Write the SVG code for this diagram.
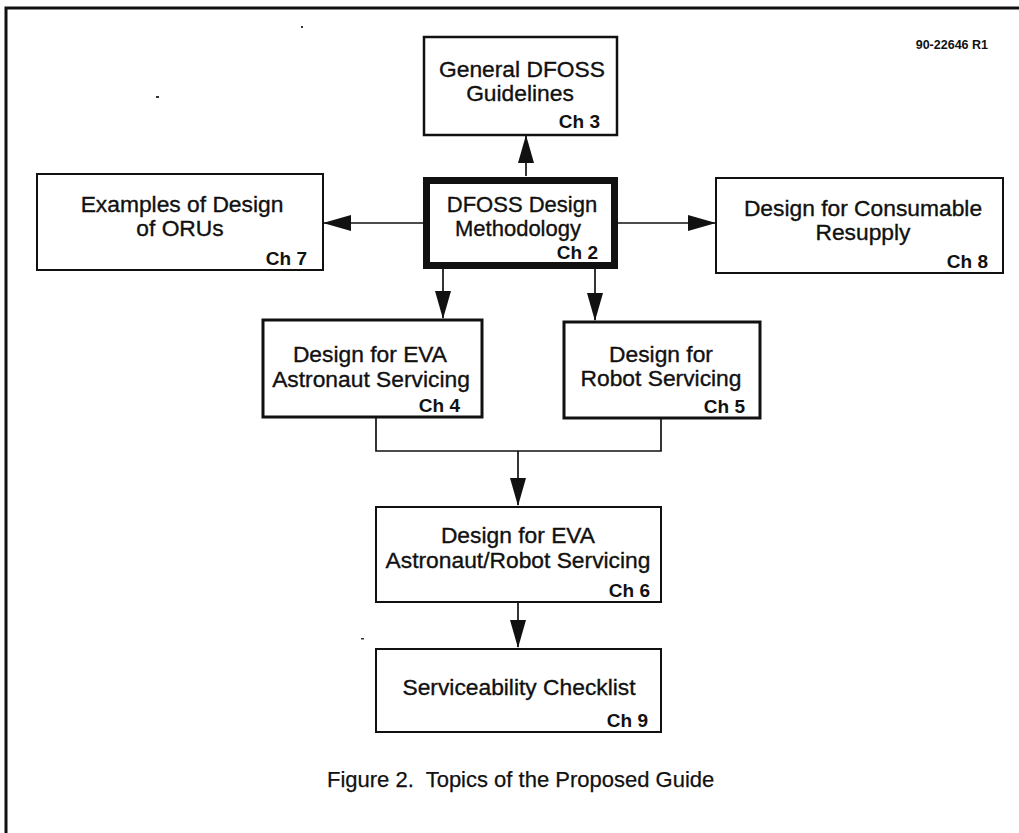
<svg xmlns="http://www.w3.org/2000/svg" width="1019" height="833" viewBox="0 0 1019 833">
<style>
.box{fill:#fff;stroke:#111}
.t{font-family:"Liberation Sans",Arial,sans-serif;font-size:22.8px;fill:#111;stroke:#111;stroke-width:0.35;text-anchor:middle}
.ch{font-family:"Liberation Sans",Arial,sans-serif;font-size:19px;font-weight:bold;fill:#111;text-anchor:end}
.ln{fill:none;stroke:#111;stroke-width:1.7}
</style>
<defs>
<marker id="ah" markerUnits="userSpaceOnUse" markerWidth="28" markerHeight="16" refX="27" refY="8" orient="auto">
<path d="M0,0 L28,8 L0,16 z" fill="#111"/>
</marker>
</defs>
<rect width="1019" height="833" fill="#fff"/>
<g id="frame">
<path d="M6,833 V8 H1019" fill="none" stroke="#111" stroke-width="3"/>
<rect x="301" y="26" width="2" height="2" fill="#333"/>
<rect x="156" y="96" width="3" height="2" fill="#333"/>
<rect x="361" y="638" width="3" height="1.5" fill="#333"/>
</g>
<text id="ref" x="988" y="49" font-family="Liberation Sans,Arial,sans-serif" font-size="12.5" font-weight="bold" fill="#111" text-anchor="end">90-22646 R1</text>
<g id="connectors">
<line class="ln" x1="526" y1="176" x2="526" y2="136" marker-end="url(#ah)"/>
<line class="ln" x1="423" y1="223" x2="324" y2="223" marker-end="url(#ah)"/>
<line class="ln" x1="618" y1="223" x2="715" y2="223" marker-end="url(#ah)"/>
<line class="ln" x1="443" y1="269" x2="443" y2="318" marker-end="url(#ah)"/>
<line class="ln" x1="595" y1="269" x2="595" y2="320" marker-end="url(#ah)"/>
<polyline class="ln" points="376,417 376,451 661,451 661,418"/>
<line class="ln" x1="518" y1="451" x2="518" y2="505" marker-end="url(#ah)"/>
<line class="ln" x1="518" y1="602" x2="518" y2="647" marker-end="url(#ah)"/>
</g>
<g id="ch3">
<rect class="box" x="424" y="37" width="193" height="98" style="stroke-width:2.5"/>
<text class="t" x="522" y="77">General DFOSS</text>
<text class="t" x="520" y="101">Guidelines</text>
<text class="ch" x="600" y="128">Ch 3</text>
</g>
<g id="ch2">
<rect class="box" x="426.5" y="180.5" width="188" height="85" style="stroke-width:7"/>
<text class="t" x="522" y="212" style="font-size:22px">DFOSS Design</text>
<text class="t" x="518" y="236" style="font-size:22px">Methodology</text>
<text class="ch" x="598" y="259">Ch 2</text>
</g>
<g id="ch7">
<rect class="box" x="37" y="174" width="286" height="96" style="stroke-width:2"/>
<text class="t" x="182" y="212">Examples of Design</text>
<text class="t" x="180" y="236">of ORUs</text>
<text class="ch" x="307" y="265">Ch 7</text>
</g>
<g id="ch8">
<rect class="box" x="716" y="178" width="287" height="95" style="stroke-width:2"/>
<text class="t" x="863" y="216">Design for Consumable</text>
<text class="t" x="863" y="240">Resupply</text>
<text class="ch" x="988" y="268">Ch 8</text>
</g>
<g id="ch4">
<rect class="box" x="263" y="320" width="219" height="97" style="stroke-width:3"/>
<text class="t" x="370" y="362">Design for EVA</text>
<text class="t" x="371" y="387">Astronaut Servicing</text>
<text class="ch" x="460" y="412">Ch 4</text>
</g>
<g id="ch5">
<rect class="box" x="564" y="322" width="196" height="96" style="stroke-width:3"/>
<text class="t" x="661" y="362">Design for</text>
<text class="t" x="661" y="386">Robot Servicing</text>
<text class="ch" x="745" y="413">Ch 5</text>
</g>
<g id="ch6">
<rect class="box" x="376" y="507" width="285" height="95" style="stroke-width:2"/>
<text class="t" x="518" y="543">Design for EVA</text>
<text class="t" x="518" y="568">Astronaut/Robot Servicing</text>
<text class="ch" x="650" y="597">Ch 6</text>
</g>
<g id="ch9">
<rect class="box" x="376" y="649" width="285" height="83" style="stroke-width:2"/>
<text class="t" x="519" y="695">Serviceability Checklist</text>
<text class="ch" x="648" y="727">Ch 9</text>
</g>
<text id="caption" x="327" y="787" xml:space="preserve" font-family="Liberation Sans,Arial,sans-serif" font-size="22" fill="#111" stroke="#111" stroke-width="0.25">Figure 2.  Topics of the Proposed Guide</text>
</svg>
